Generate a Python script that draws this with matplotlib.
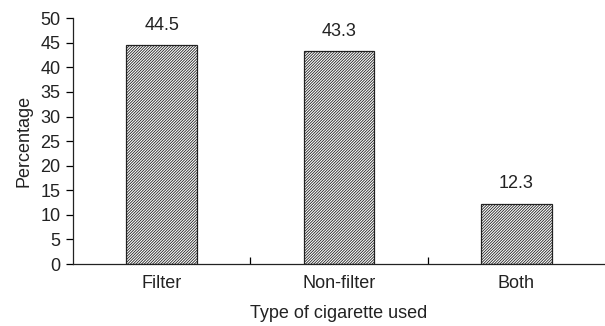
import matplotlib.pyplot as plt
import matplotlib as mpl

plt.rcParams['font.family'] = ['Liberation Sans', 'DejaVu Sans']
mpl.rcParams['hatch.linewidth'] = 0.6

categories = ['Filter', 'Non-filter', 'Both']
values = [44.5, 43.3, 12.3]

fig = plt.figure(figsize=(6.05, 3.26), dpi=100)
ax = fig.add_axes([0.1207, 0.19, 0.8793, 0.754])

x = range(len(categories))
bars = ax.bar(x, values, width=0.4, color='white', edgecolor='#222222',
              linewidth=0.9, hatch='/' * 12)
for b, v in zip(bars, values):
    ax.text(b.get_x() + b.get_width() / 2, v + 2.3, f'{v:.1f}',
            ha='center', va='bottom', fontsize=13, color='#222222')

ax.set_xlim(-0.5, 2.5)
ax.set_ylim(0, 50)
ax.set_yticks(range(0, 51, 5))
ax.set_xticks(list(x))
ax.set_xticklabels(categories)
ax.set_xticks([0.5, 1.5], minor=True)
ax.tick_params(axis='x', which='major', length=0, pad=8, labelsize=13,
               labelcolor='#222222')
ax.tick_params(axis='x', which='minor', length=5, width=0.9, direction='in')
ax.tick_params(axis='y', length=5, width=0.9, labelsize=13, pad=4,
               labelcolor='#222222')

for s in ['top', 'right']:
    ax.spines[s].set_visible(False)
for s in ['left', 'bottom']:
    ax.spines[s].set_linewidth(0.9)
    ax.spines[s].set_color('#222222')

ax.set_xlabel('Type of cigarette used', fontsize=13, labelpad=9, color='#222222')
ax.set_ylabel('Percentage', fontsize=13, labelpad=6, color='#222222')

fig.savefig('out.png', dpi=100)
